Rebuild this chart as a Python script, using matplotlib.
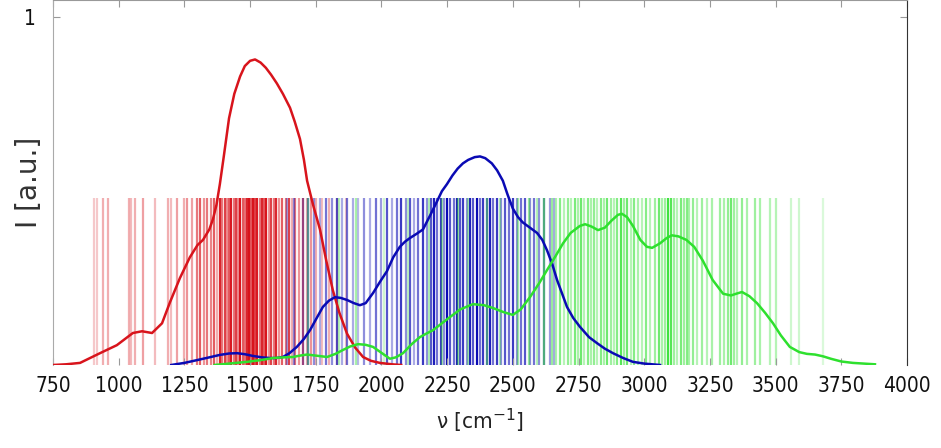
import numpy as np
import matplotlib
matplotlib.use("Agg")
import matplotlib.pyplot as plt
from matplotlib import font_manager
from matplotlib.colors import to_rgba

# density curves (wavenumber, intensity)
red_x = [750, 800, 853, 929, 993, 1054, 1089, 1127, 1165, 1195, 1233, 1271, 1300, 1321,
         1345, 1359, 1372, 1385, 1400, 1420, 1440, 1462, 1480, 1500, 1519, 1540, 1560,
         1580, 1602, 1625, 1652, 1670, 1690, 1705, 1717, 1740, 1766, 1790, 1815, 1840,
         1869, 1900, 1930, 1960, 1994, 2040, 2075]
red_y = [0.0, 0.002, 0.006, 0.034, 0.057, 0.092, 0.097, 0.092, 0.12, 0.18, 0.25, 0.31,
         0.345, 0.36, 0.39, 0.42, 0.46, 0.52, 0.60, 0.71, 0.78, 0.83, 0.86, 0.875, 0.879,
         0.87, 0.855, 0.835, 0.81, 0.78, 0.74, 0.70, 0.65, 0.59, 0.53, 0.46, 0.39, 0.30,
         0.215, 0.15, 0.09, 0.05, 0.023, 0.012, 0.006, 0.002, 0.0]

blue_x = [1200, 1250, 1298, 1345, 1385, 1420, 1450, 1480, 1511, 1545, 1576, 1600, 1625,
          1650, 1678, 1705, 1728, 1752, 1777, 1800, 1823, 1845, 1869, 1895, 1918, 1940,
          1968, 1995, 2021, 2045, 2070, 2090, 2108, 2135, 2158, 2185, 2211, 2230, 2249,
          2270, 2290, 2310, 2330, 2355, 2375, 2395, 2420, 2440, 2462, 2480, 2500, 2520,
          2538, 2565, 2592, 2612, 2630, 2650, 2668, 2690, 2706, 2730, 2755, 2790, 2820,
          2850, 2881, 2920, 2957, 3000, 3060]
blue_y = [0.0, 0.006, 0.014, 0.022, 0.029, 0.033, 0.034, 0.031, 0.026, 0.022, 0.02, 0.02,
          0.023, 0.034, 0.052, 0.075, 0.10, 0.133, 0.167, 0.185, 0.195, 0.193, 0.187, 0.178,
          0.172, 0.178, 0.207, 0.24, 0.27, 0.31, 0.34, 0.355, 0.365, 0.378, 0.39, 0.43,
          0.47, 0.50, 0.52, 0.545, 0.565, 0.58, 0.59, 0.598, 0.60, 0.595, 0.58, 0.56, 0.53,
          0.49, 0.45, 0.425, 0.41, 0.395, 0.38, 0.36, 0.33, 0.29, 0.245, 0.20, 0.167, 0.135,
          0.11, 0.08, 0.063, 0.047, 0.034, 0.02, 0.009, 0.004, 0.0]

green_x = [1365, 1420, 1488, 1540, 1587, 1630, 1663, 1690, 1717, 1750, 1793, 1825, 1853,
           1880, 1911, 1940, 1968, 2000, 2032, 2055, 2082, 2115, 2146, 2170, 2196, 2230,
           2261, 2300, 2348, 2390, 2424, 2465, 2500, 2530, 2565, 2600, 2630, 2660, 2691,
           2720, 2755, 2775, 2800, 2824, 2850, 2875, 2900, 2915, 2935, 2957, 2985, 3010,
           3030, 3060, 3085, 3105, 3130, 3160, 3190, 3223, 3260, 3300, 3330, 3350, 3372,
           3400, 3429, 3460, 3490, 3520, 3554, 3590, 3619, 3650, 3680, 3710, 3750, 3794,
           3878]
green_y = [0.0, 0.004, 0.009, 0.014, 0.02, 0.022, 0.023, 0.027, 0.03, 0.027, 0.023, 0.032,
           0.043, 0.053, 0.06, 0.058, 0.052, 0.035, 0.018, 0.022, 0.034, 0.06, 0.08, 0.09,
           0.10, 0.12, 0.138, 0.16, 0.175, 0.172, 0.164, 0.152, 0.144, 0.16, 0.195, 0.235,
           0.273, 0.31, 0.35, 0.38, 0.40, 0.405, 0.398, 0.388, 0.395, 0.415, 0.432, 0.435,
           0.425, 0.40, 0.36, 0.34, 0.337, 0.35, 0.365, 0.373, 0.37, 0.36, 0.34, 0.30, 0.245,
           0.205, 0.20, 0.205, 0.21, 0.198, 0.178, 0.15, 0.12, 0.085, 0.052, 0.037, 0.032,
           0.03, 0.025, 0.018, 0.01, 0.006, 0.002]

# line spectra (position, relative weight)
red_lines = [905, 918, 940, 960, 1038, 1048, 1062, 1093, 1140, 1186, 1198, 1222, 1250,
             1260, 1280, 1298, 1310, 1325, 1338, 1352, 1362, 1375, 1386, 1395, 1404, 1412,
             1420, 1428, 1437, 1446, 1455, 1463, 1472, 1480, 1488, 1496, 1504, 1512, 1520,
             1528, 1536, 1545, 1553, 1562, 1571, 1580, 1590, 1600, 1612, 1622, 1635, 1648,
             1660, 1672, 1688, 1700, 1715, 1732, 1750, 1775, 1800, 1830, 1865]
red_w = [.2, .2, .3, .3, .3, .25, .3, .35, .25, .3, .25, .35, .3, .4, .35, .5, .6, .4, .5,
         .45, .6, .3, .8, .5, .7, .4, .6, .85, .5, .7, .4, .9, .6, .5, .8, .9, .6, .95, .7,
         .85, .5, .8, .6, .9, .4, .7, .5, .8, .4, .6, .5, .7, .3, .5, .4, .6, .3, .4, .3,
         .25, .3, .25, .2]

blue_lines = [1640, 1668, 1700, 1722, 1745, 1768, 1790, 1812, 1830, 1848, 1870, 1890, 1912,
              1935, 1955, 1978, 2000, 2020, 2040, 2058, 2075, 2092, 2110, 2125, 2140, 2158,
              2172, 2188, 2200, 2212, 2225, 2238, 2250, 2262, 2275, 2288, 2300, 2312, 2325,
              2338, 2350, 2362, 2375, 2388, 2400, 2412, 2425, 2440, 2455, 2470, 2485, 2500,
              2515, 2530, 2548, 2565, 2582, 2600, 2620, 2640, 2655]
blue_w = [.3, .4, .3, .5, .4, .3, .5, .4, .6, .3, .5, .3, .25, .4, .3, .5, .35, .6, .3, .5,
          .7, .4, .6, .3, .5, .7, .4, .6, .8, .5, .7, .4, .9, .6, .5, .8, .6, .7, .4, .8, .6,
          .9, .5, .7, .6, .8, .5, .7, .4, .6, .5, .7, .4, .5, .6, .4, .5, .4, .5, .35, .3]

green_lines = [1720, 1840, 1905, 2010, 2100, 2180, 2230, 2290, 2330, 2400, 2450, 2520, 2560,
               2590, 2620, 2648, 2665, 2680, 2695, 2710, 2722, 2735, 2748, 2760, 2772, 2785,
               2798, 2810, 2822, 2835, 2848, 2860, 2872, 2885, 2898, 2910, 2922, 2935, 2948,
               2962, 2975, 2990, 3005, 3020, 3040, 3055, 3068, 3080, 3092, 3100, 3112, 3125,
               3140, 3150, 3162, 3172, 3185, 3200, 3220, 3240, 3258, 3290, 3305, 3320, 3330,
               3340, 3352, 3372, 3390, 3420, 3440, 3480, 3500, 3560, 3590, 3680]
green_w = [.3, .3, .35, .2, .25, .3, .3, .35, .3, .35, .3, .35, .4, .3, .45, .4, .35, .5, .3,
           .45, .3, .55, .35, .6, .3, .5, .35, .45, .3, .5, .35, .6, .4, .3, .5, .7, .4, .6,
           .3, .5, .35, .3, .5, .3, .4, .6, .35, .4, .8, .7, .4, .3, .55, .4, .5, .35, .45,
           .3, .4, .3, .35, .4, .35, .45, .6, .4, .3, .45, .35, .4, .35, .3, .3, .2, .2, .15]

RED = "#d8141c"
BLUE = "#0a0ab4"
GREEN = "#2ee02e"
RUG_TOP = 0.48

# condensed face for the tick labels, if there is one
names = {f.name for f in font_manager.fontManager.ttflist}
cond = {"family": "DejaVu Sans", "stretch": "condensed"}
if "DejaVu Sans Condensed" in names:
    cond = {"family": "DejaVu Sans Condensed"}
elif "Liberation Sans Narrow" in names:
    cond = {"family": "Liberation Sans Narrow"}

fig = plt.figure(figsize=(9.41, 4.48), dpi=100)
ax = fig.add_axes([0.0563, 0.1853, 0.9076, 0.8147])

for xs, ws, c in [(red_lines, red_w, RED), (blue_lines, blue_w, BLUE),
                  (green_lines, green_w, GREEN)]:
    cols = [to_rgba(c, min(1.0, w * 1.15)) for w in ws]
    ax.vlines(xs, 0, RUG_TOP, colors=cols, linewidth=1.6, zorder=1)

ax.plot(red_x, red_y, color=RED, lw=1.8, zorder=3)
ax.plot(blue_x, blue_y, color=BLUE, lw=1.8, zorder=3)
ax.plot(green_x, green_y, color=GREEN, lw=1.8, zorder=3)

ax.set_xlim(750, 4000)
ax.set_ylim(0, 1.05)
ax.set_xticks(np.arange(750, 4001, 250))
ax.set_yticks([1])
ax.tick_params(axis="both", direction="in", top=True, right=True, length=5,
               color="#999999", labelcolor="#111111")
ax.tick_params(axis="x", pad=8)
ax.tick_params(axis="y", pad=12)
for lab in ax.get_xticklabels() + ax.get_yticklabels():
    lab.set_fontproperties(font_manager.FontProperties(size=15, **cond))
ax.spines["bottom"].set_visible(False)
ax.spines["top"].set_color("#999999")
ax.spines["left"].set_color("#aaaaaa")
ax.spines["right"].set_color("#333333")

ax.set_xlabel(r"ν [cm$^{-1}$]", color="#222222", labelpad=8,
              fontproperties=font_manager.FontProperties(size=16, **cond))
ax.set_ylabel("I [a.u.]", fontsize=20, color="#333333")
ax.yaxis.set_label_coords(-0.012, 0.5)

fig.savefig("out.png", dpi=100)
